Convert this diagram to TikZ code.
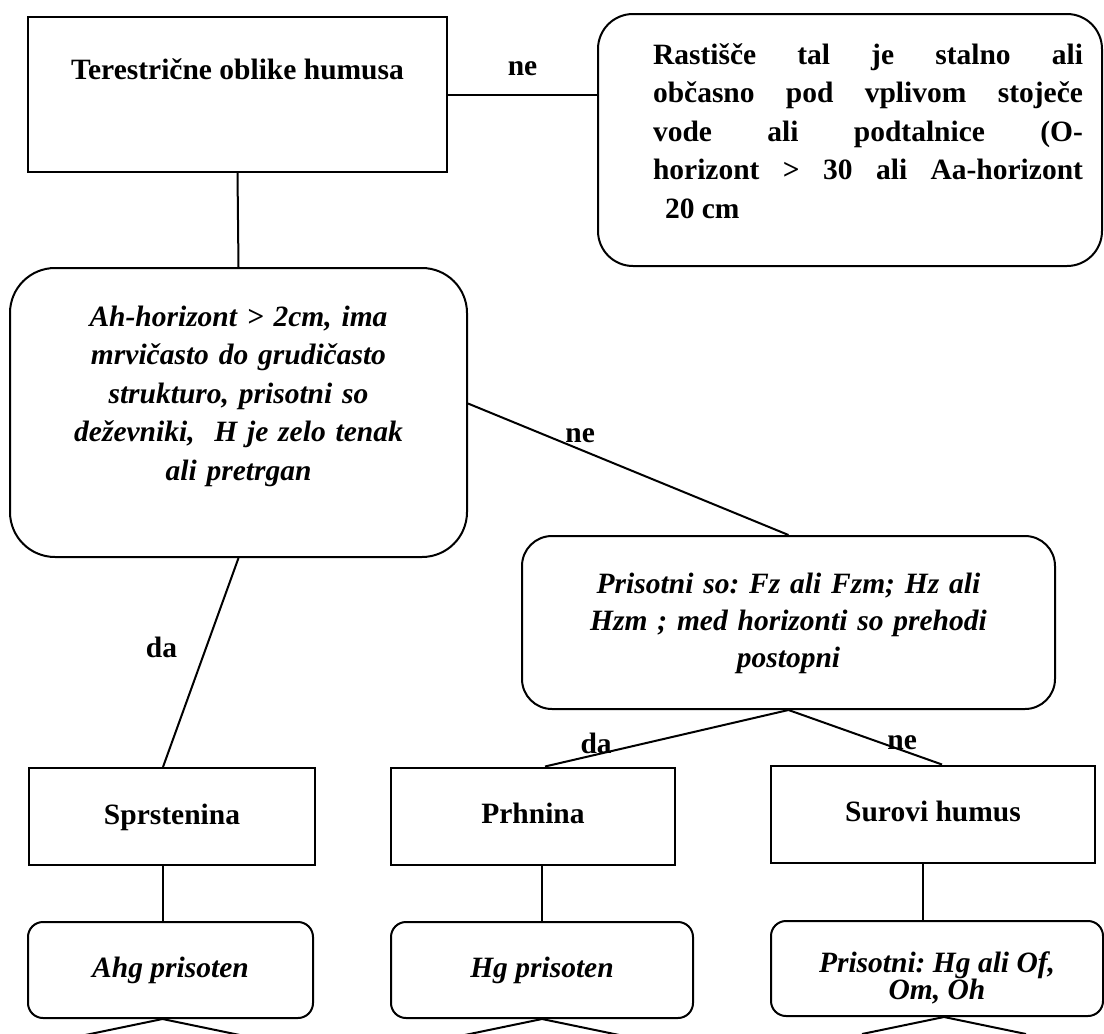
\documentclass[tikz,border=0pt]{standalone}
\usepackage{fontspec}
\setmainfont{Liberation Serif}
\usetikzlibrary{positioning}
\usetikzlibrary{calc}
\frenchspacing
\tikzstyle{sqbox}=[rectangle,draw,line width=2pt,inner sep=0pt,font=\bfseries\fontsize{29.5}{38.5}\selectfont]
\tikzstyle{roundbox}=[rectangle,draw,line width=2pt,inner sep=0pt,align=center,font=\bfseries\itshape\fontsize{29.5}{38.5}\selectfont]
\tikzstyle{undirectededge} = [draw,line width=2pt]
\tikzstyle{weight} = [font=\bfseries\fontsize{29.5}{34}\selectfont,inner sep=0pt]

\begin{document}
\begin{tikzpicture}[x=1pt,y=-1pt]
    \useasboundingbox (0,0) rectangle (1104,1034);
    % First the boxes of the key
    \node[sqbox,anchor=north,minimum width=419pt,text height=62pt,text depth=93pt] (teres) at (237.5,16) {Terestrične oblike humusa};
    \node[roundbox,rounded corners=35pt,anchor=north,font=\bfseries\upshape\fontsize{29.5}{38.5}\selectfont,
          text width=466pt,inner xsep=19pt,text height=50pt,text depth=202pt,align=justify] (rast) at (850,13)
        {\leftskip=36pt \tolerance=10000 \hyphenpenalty=10000 \exhyphenpenalty=10000
         Rastišče tal je stalno ali\linebreak občasno pod vplivom stoječe\linebreak vode ali podtalnice (O-\linebreak horizont > 30 ali Aa-horizont\linebreak \hspace*{12pt}20 cm\par};
    \node[roundbox,rounded corners=45pt,anchor=north,text width=440pt,inner xsep=8.5pt,text height=58pt,text depth=231pt] (ahhor) at (238.5,267)
        {Ah-horizont > 2cm, ima\\ mrvičasto do grudičasto\\ strukturo, prisotni so\\ deževniki,\ \ H je zelo tenak\\ ali pretrgan};
    \node[roundbox,rounded corners=30pt,anchor=north,font=\bfseries\itshape\fontsize{29.5}{37}\selectfont,
          text width=500pt,inner xsep=16.5pt,text height=57pt,text depth=116pt] (prisso) at (788.5,535)
        {Prisotni so: Fz ali Fzm; Hz ali\\ Hzm ; med horizonti so prehodi\\ postopni};

    % Then the humus forms and their horizons
    \foreach \pos/\name/\wid/\txt in {{(172,816.5)/sprst/286pt/Sprstenina}, {(533,816)/prhn/284pt/Prhnina}, {(933,814)/surov/324pt/Surovi humus}}
        \node[sqbox,minimum width=\wid,minimum height=97pt,text height=21pt,text depth=6pt] (\name) at \pos {\txt};
    \foreach \pos/\name/\wid/\txt in {{(170.5,970)/ahg/285pt/Ahg prisoten}, {(542,970)/hg/302pt/Hg prisoten}}
        \node[roundbox,rounded corners=15pt,minimum width=\wid,minimum height=96pt,text height=21pt,text depth=6pt] (\name) at \pos {\txt};
    \node[roundbox,rounded corners=15pt,minimum width=332pt,minimum height=95pt] (prisot) at (937,968.5)
        {\rule{0pt}{40pt}Prisotni: Hg ali Of,\\[-11pt]Om, Oh};

    % Connect boxes with edges and draw answers
    \path[undirectededge] (teres.east) -- node[weight,pos=0.5,above=18pt] {ne} (teres.east -| rast.west);
    \path[undirectededge] (teres.south) -- (ahhor.north);
    \path[undirectededge] ([yshift=9pt]ahhor.east) -- node[weight,pos=0.35,above=6pt] {ne} (prisso.north);
    \path[undirectededge] (ahhor.south) -- node[weight,pos=0.43,left=28pt] {da} ([xshift=-9pt]sprst.north);
    \path[undirectededge] (prisso.south) -- node[weight,pos=0.79,above=0pt] {da} ([xshift=12pt]prhn.north);
    \path[undirectededge] (prisso.south) -- node[weight,pos=0.74,above=0pt] {ne} ([xshift=9pt]surov.north);
    \path[undirectededge] ([xshift=-9pt]sprst.south) -- ([xshift=-9pt]sprst.south |- ahg.north);
    \path[undirectededge] (hg.north |- prhn.south) -- (hg.north);
    \path[undirectededge] ([xshift=-10pt]surov.south) -- ([xshift=-10pt]surov.south |- prisot.north);
    % open branches below the last boxes
    \foreach \name/\dx in {ahg/-8, hg/0, prisot/7}{
        \coordinate (\name-apex) at ($(\name.south)+(\dx,0)$);
        \coordinate (\name-l) at ($(\name.south)+(\dx-82,17)$);
        \coordinate (\name-r) at ($(\name.south)+(\dx+82,17)$);
        \path[undirectededge] (\name-l) -- (\name-apex) -- (\name-r);
    }
\end{tikzpicture}
\end{document}
